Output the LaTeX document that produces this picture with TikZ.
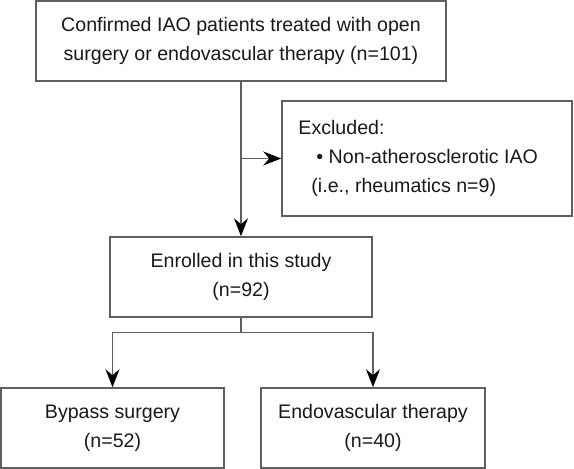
\documentclass[tikz,border=0pt]{standalone}
\usepackage{fontspec}
\setmainfont{Liberation Sans}
\usepackage{xcolor}
\usetikzlibrary{arrows.meta, positioning, calc}
\definecolor{lineGray}{RGB}{95,95,95}
\definecolor{textDark}{RGB}{25,25,25}

\begin{document}
\begin{tikzpicture}[
    x=1pt, y=-1pt,
    box/.style={draw=lineGray,line width=1.5pt,fill=white,align=center,
      inner sep=0pt,text=textDark,font=\fontsize{19.6}{29}\selectfont},
    txt/.style={align=left,inner sep=0pt,text=textDark,
      font=\fontsize{19.6}{29}\selectfont},
    arrow/.style={-{Stealth[length=18pt,width=14pt,inset=6pt,color=black]},
      line width=1.4pt,lineGray},
    link/.style={line width=1.4pt,lineGray}
  ]
  \useasboundingbox (0,0) rectangle (574,469);

  % Screening
  \node[box,minimum width=410pt,minimum height=80pt] (confirmed) at (241,41)
    {Confirmed IAO patients treated with open\\
     surgery or endovascular therapy (n=101)};

  % Exclusion
  \node[box,minimum width=290pt,minimum height=115pt] (excluded) at (427,158.5) {};
  \node[txt,anchor=west] (exclText) at ([xshift=17pt]excluded.west)
    {Excluded:\\
     \hspace*{18pt}\textbullet\ Non-atherosclerotic IAO\\
     \hspace*{13pt}(i.e., rheumatics n=9)};

  % Enrolment
  \node[box,minimum width=262pt,minimum height=80pt] (enrolled) at (241,277)
    {Enrolled in this study\\(n=92)};

  % Treatment arms
  \node[box,minimum width=223pt,minimum height=80pt] (bypass) at (112.5,428)
    {Bypass surgery\\(n=52)};
  \node[box,minimum width=224pt,minimum height=80pt] (endo) at (373,428)
    {Endovascular therapy\\(n=40)};

  % Flow
  \draw[arrow] (confirmed.south) -- (enrolled.north);
  \draw[arrow] (confirmed.south |- excluded.west) -- (excluded.west);
  \coordinate (split) at ($(enrolled.south)+(0,15)$);
  \draw[link] (enrolled.south) -- (split);
  \draw[arrow] (split) -| (bypass.north);
  \draw[arrow] (split) -| (endo.north);
\end{tikzpicture}
\end{document}
